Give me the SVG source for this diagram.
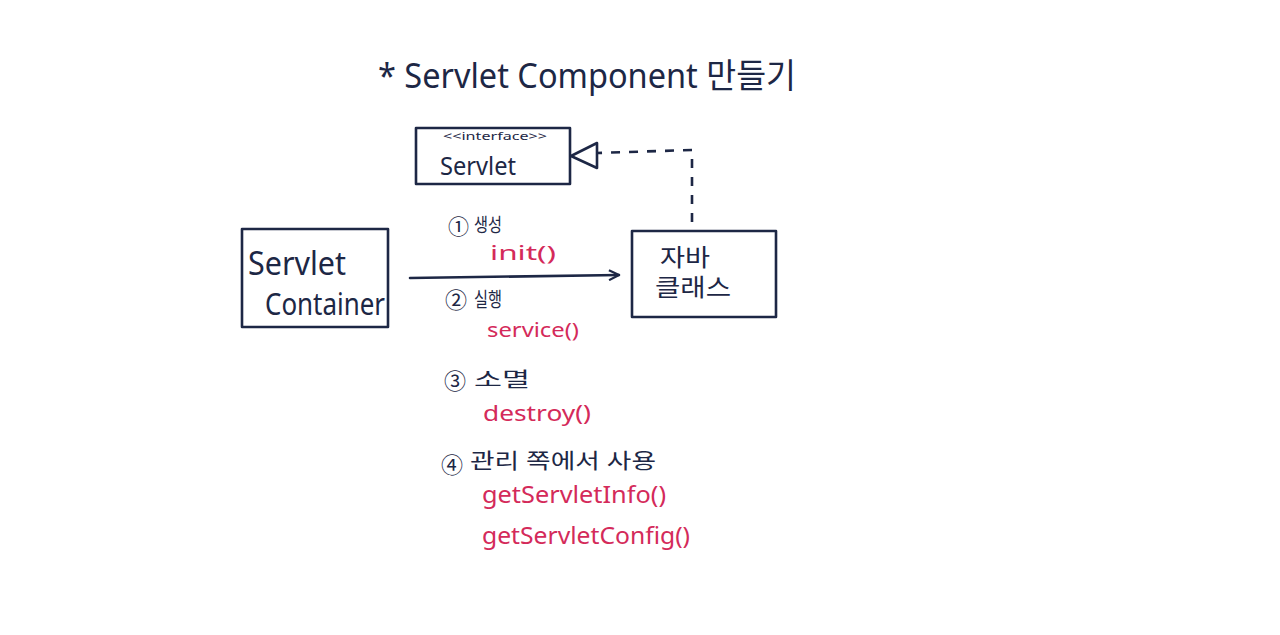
<svg xmlns="http://www.w3.org/2000/svg" width="1280" height="635" viewBox="0 0 1280 635">
<style>
.ink{fill:none;stroke:#1d2745;stroke-width:2.6;stroke-linecap:round;stroke-linejoin:round}
.dash{fill:none;stroke:#1d2745;stroke-width:2.6;stroke-dasharray:9 9}
.t{fill:#1d2745;font-family:"Noto Sans","Noto Sans CJK KR",sans-serif}
.r{fill:#d42a5a;font-family:"Noto Sans","Noto Sans CJK KR",sans-serif}
</style>
<defs>
<marker id="open" viewBox="0 0 12 12" refX="11" refY="6" markerWidth="12" markerHeight="12" markerUnits="userSpaceOnUse" orient="auto">
<path d="M1,1 L11,6 L1,11" fill="none" stroke="#1d2745" stroke-width="2.2"/>
</marker>
</defs>
<rect width="1280" height="635" fill="#ffffff"/>
<g id="title">
<text class="t" x="378" y="88" font-size="34" textLength="418" lengthAdjust="spacingAndGlyphs">* Servlet Component 만들기</text>
</g>
<g id="servlet-interface">
<rect class="ink" x="416" y="128" width="154" height="56"/>
<text class="t" x="443" y="140" font-size="11" textLength="104" lengthAdjust="spacingAndGlyphs">&lt;&lt;interface&gt;&gt;</text>
<text class="t" x="440" y="175" font-size="25" textLength="76" lengthAdjust="spacingAndGlyphs">Servlet</text>
</g>
<g id="servlet-container">
<rect class="ink" x="242" y="229" width="146" height="98"/>
<text class="t" x="248" y="275" font-size="32" textLength="98" lengthAdjust="spacingAndGlyphs">Servlet</text>
<text class="t" x="265" y="315" font-size="30" textLength="120" lengthAdjust="spacingAndGlyphs">Container</text>
</g>
<g id="java-class">
<rect class="ink" x="632" y="231" width="144" height="86"/>
<text class="t" x="660" y="266" font-size="24" textLength="50" lengthAdjust="spacingAndGlyphs">자바</text>
<text class="t" x="655" y="296" font-size="24" textLength="76" lengthAdjust="spacingAndGlyphs">클래스</text>
</g>
<g id="connectors">
<polyline class="dash" points="692,222 692,150 597,153"/>
<path class="ink" d="M597,143 L571,156 L597,168 Z" fill="#ffffff"/>
<line class="ink" x1="410" y1="278" x2="619" y2="275" marker-end="url(#open)"/>
</g>
<g id="labels">
<text class="t" x="448" y="234" font-size="21">①</text>
<text class="t" x="474" y="232" font-size="19" textLength="28" lengthAdjust="spacingAndGlyphs">생성</text>
<text class="r" x="490" y="260" font-size="20" textLength="66" lengthAdjust="spacingAndGlyphs">init()</text>
<text class="t" x="445" y="308" font-size="22">②</text>
<text class="t" x="474" y="307" font-size="20" textLength="28" lengthAdjust="spacingAndGlyphs">실행</text>
<text class="r" x="487" y="337" font-size="19" textLength="92" lengthAdjust="spacingAndGlyphs">service()</text>
<text class="t" x="444" y="389" font-size="22">③</text>
<text class="t" x="474" y="387" font-size="20" textLength="56" lengthAdjust="spacingAndGlyphs">소멸</text>
<text class="r" x="483" y="421" font-size="22" textLength="108" lengthAdjust="spacingAndGlyphs">destroy()</text>
<text class="t" x="441" y="473" font-size="22">④</text>
<text class="t" x="470" y="468" font-size="21" textLength="186" lengthAdjust="spacingAndGlyphs">관리 쪽에서 사용</text>
<text class="r" x="482" y="503" font-size="24" textLength="184" lengthAdjust="spacingAndGlyphs">getServletInfo()</text>
<text class="r" x="482" y="544" font-size="24" textLength="208" lengthAdjust="spacingAndGlyphs">getServletConfig()</text>
</g>
</svg>
